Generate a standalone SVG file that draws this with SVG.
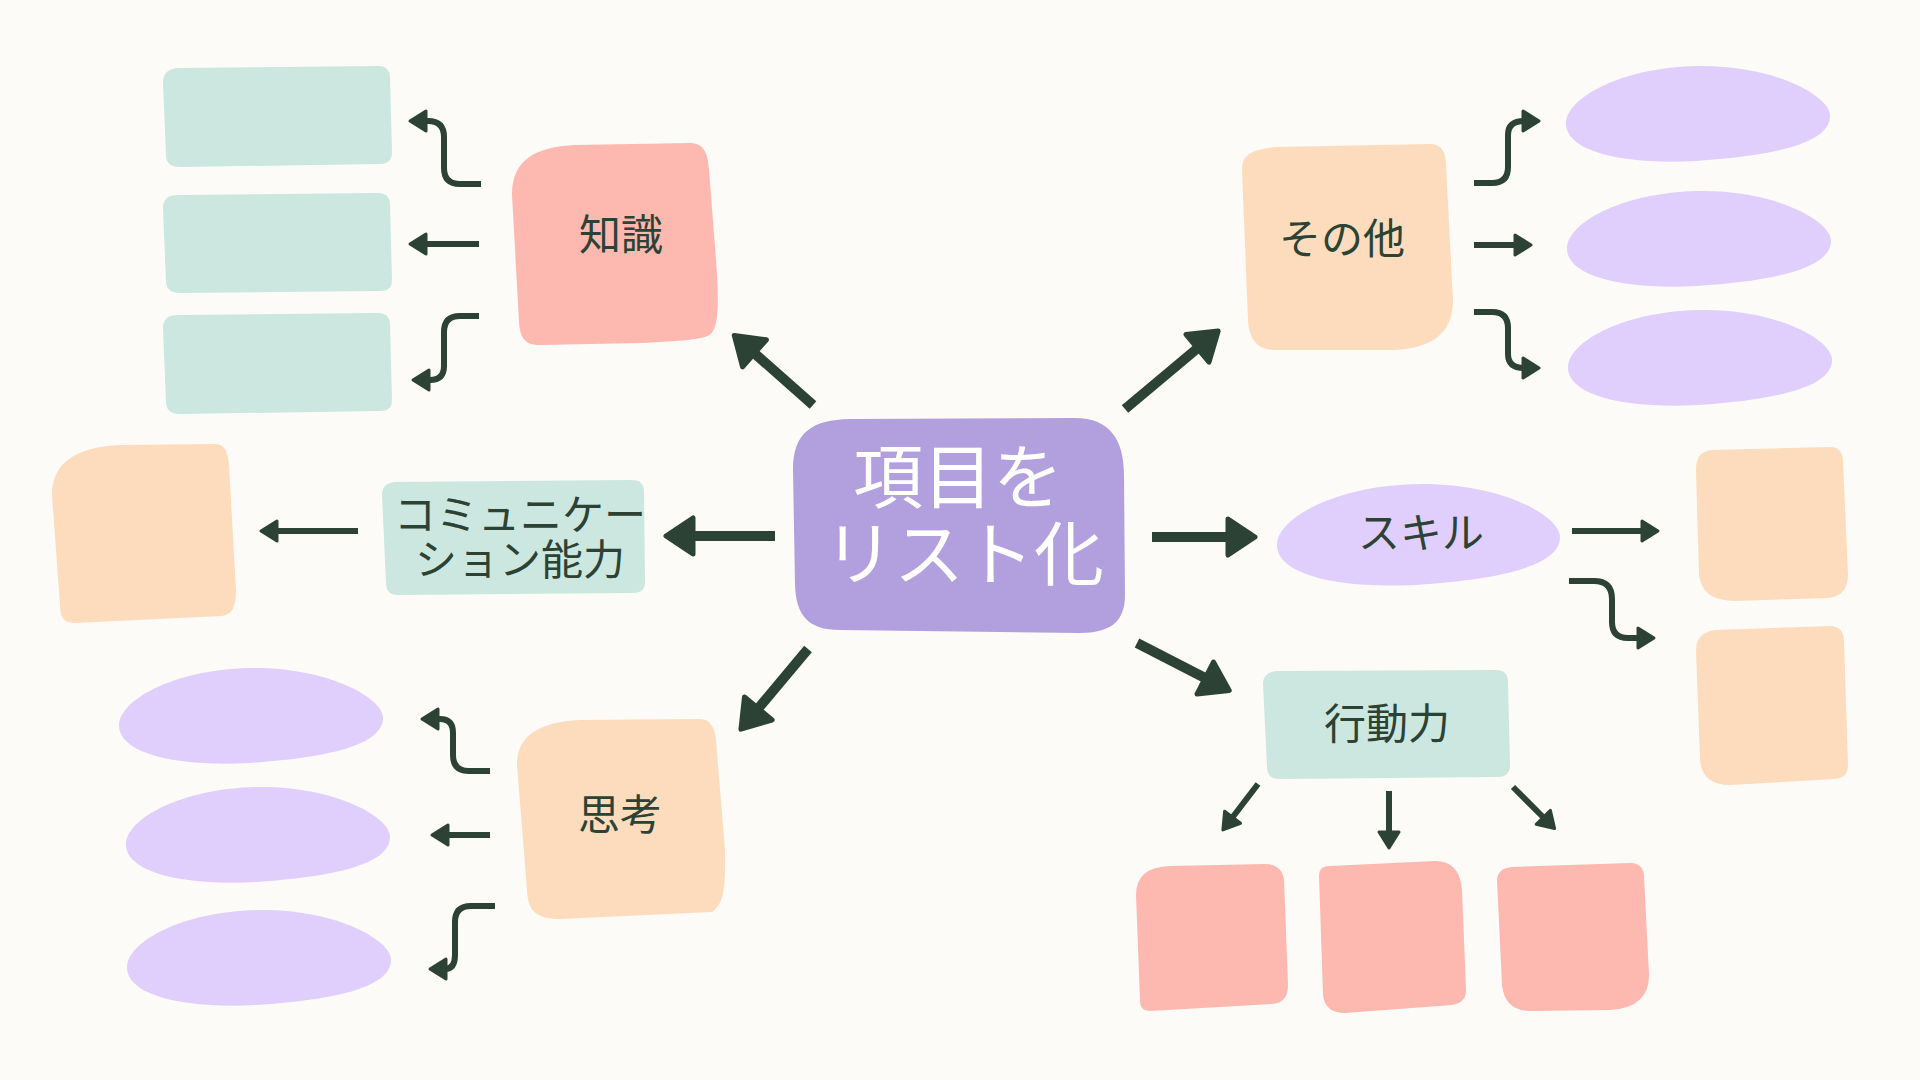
<svg xmlns="http://www.w3.org/2000/svg" xmlns:xlink="http://www.w3.org/1999/xlink" width="1920" height="1080" viewBox="0 0 1920 1080">
<style>
.pink{fill:#FDB8B0}
.peach{fill:#FDDCBD}
.teal{fill:#CBE7E0}
.lav{fill:#E0CFFC}
.purple{fill:#B2A0DE}
.lbl{font-family:"Noto Sans CJK JP","Noto Sans",sans-serif;font-size:42px;fill:#2C4235;text-anchor:middle}
.main{font-family:"Noto Sans CJK JP","Noto Sans",sans-serif;font-size:70px;fill:#FFFFFF;text-anchor:middle}
.big{fill:none;stroke:#2C4235;stroke-width:10}
.sm{fill:none;stroke:#2C4235;stroke-width:6}
</style>
<defs>
<marker id="hb" markerUnits="userSpaceOnUse" markerWidth="60" markerHeight="60" refX="2" refY="0" orient="auto" overflow="visible" viewBox="-30 -30 60 60">
<path d="M0,-18 L27,0 L0,18 Z" fill="#2C4235" stroke="#2C4235" stroke-width="5" stroke-linejoin="round"/>
</marker>
<marker id="hs" markerUnits="userSpaceOnUse" markerWidth="40" markerHeight="40" refX="1" refY="0" orient="auto" overflow="visible" viewBox="-20 -20 40 40">
<path d="M0,-10 L16,0 L0,10 Z" fill="#2C4235" stroke="#2C4235" stroke-width="3" stroke-linejoin="round"/>
</marker>
<path id="blob" d="M0,56 C2,30 60,0 136,0 C210,0 264,30 264,50 C264,78 205,90 130,95 C52,99 -2,84 0,56 Z"/>
</defs>
<rect x="0" y="0" width="1920" height="1080" fill="#FDFBF7"/>

<g id="connectors">
<path class="big" d="M813,405 L753,352" marker-end="url(#hb)"/>
<path class="big" d="M775,536 L691,536" marker-end="url(#hb)"/>
<path class="big" d="M808,649 L757,710" marker-end="url(#hb)"/>
<path class="big" d="M1125,409 L1199,347" marker-end="url(#hb)"/>
<path class="big" d="M1152,537 L1230,537" marker-end="url(#hb)"/>
<path class="big" d="M1137,643 L1207,679" marker-end="url(#hb)"/>

<path class="sm" d="M358,531 L276,531" marker-end="url(#hs)"/>
<path class="sm" d="M1572,531 L1643,531" marker-end="url(#hs)"/>
<path class="sm" d="M479,244 L425,244" marker-end="url(#hs)"/>
<path class="sm" d="M490,835 L447,835" marker-end="url(#hs)"/>
<path class="sm" d="M1474,245 L1516,245" marker-end="url(#hs)"/>
<path class="sm" d="M1258,784 L1232,818" marker-end="url(#hs)"/>
<path class="sm" d="M1389,791 L1389,833" marker-end="url(#hs)"/>
<path class="sm" d="M1513,787 L1544,818" marker-end="url(#hs)"/>

<path class="sm" d="M481,184 L460,184 Q444,184 444,168 L444,137 Q444,121 428,121 L425,121" marker-end="url(#hs)"/>
<path class="sm" d="M479,316 L460,316 Q444,316 444,332 L444,366 Q444,380 430,380 L428,380" marker-end="url(#hs)"/>
<path class="sm" d="M490,771 L469,771 Q453,771 453,755 L453,733 Q453,719 440,719 L437,719" marker-end="url(#hs)"/>
<path class="sm" d="M495,906 L471,906 Q455,906 455,922 L455,955 Q455,969 445,969" marker-end="url(#hs)"/>
<path class="sm" d="M1474,183 L1492,183 Q1508,183 1508,167 L1508,135 Q1508,121 1524,121" marker-end="url(#hs)"/>
<path class="sm" d="M1474,312 L1492,312 Q1508,312 1508,328 L1508,354 Q1508,368 1524,368" marker-end="url(#hs)"/>
<path class="sm" d="M1569,581 L1594,581 Q1612,581 1612,599 L1612,622 Q1612,638 1628,638 L1639,638" marker-end="url(#hs)"/>
</g>

<g id="center">
<path class="purple" d="M793,470 C793,432 812,420 850,419 L1075,418 C1110,418 1124,440 1124,475 L1125,595 C1125,622 1110,633 1080,633 L840,630 C808,630 796,615 795,585 Z"/>
<text class="main" x="958" y="503">項目を</text>
<text class="main" x="964" y="580">リスト化</text>
</g>

<g id="n-chishiki">
<path class="pink" d="M512,195 C512,160 535,147 575,145 L690,143 C703,143 708,152 709,170 L716,260 C719,300 719,325 711,334 C703,340 680,341 640,343 L540,345 C525,345 520,338 519,322 Z"/>
<text class="lbl" x="621" y="250">知識</text>
</g>
<g id="c-chishiki-1"><path class="teal" d="M178,68 L378,66 Q390,66 390,78 L392,152 Q392,164 380,164 L180,167 Q166,167 166,155 L163,82 Q163,69 178,68 Z"/></g>
<g id="c-chishiki-2"><path class="teal" d="M178,195 L378,193 Q390,193 390,205 L392,280 Q392,291 380,291 L180,293 Q166,293 166,281 L163,208 Q163,195 178,195 Z"/></g>
<g id="c-chishiki-3"><path class="teal" d="M178,315 L378,313 Q390,313 390,325 L392,400 Q392,411 380,411 L180,414 Q166,414 166,402 L163,328 Q163,315 178,315 Z"/></g>

<g id="n-comm">
<path class="teal" d="M395,482 L632,480 Q644,480 644,492 L645,582 Q645,593 633,593 L398,595 Q386,595 386,583 L382,495 Q382,483 395,482 Z"/>
<text class="lbl" x="520" y="530">コミュニケー</text>
<text class="lbl" x="520" y="575">ション能力</text>
</g>
<g id="c-comm-1"><path class="peach" d="M52,495 C52,460 80,447 120,445 L215,444 C225,444 228,452 229,465 L236,590 C236,608 232,614 222,616 L75,623 C63,623 60,616 60,605 Z"/></g>

<g id="n-shiko">
<path class="peach" d="M517,765 C517,735 540,722 580,720 L700,719 C710,719 715,728 716,740 L725,850 C726,895 722,905 712,912 L560,919 C535,919 528,910 527,890 Z"/>
<text class="lbl" x="620" y="830">思考</text>
</g>
<g id="c-shiko-1"><use href="#blob" class="lav" transform="translate(119,668)"/></g>
<g id="c-shiko-2"><use href="#blob" class="lav" transform="translate(126,787)"/></g>
<g id="c-shiko-3"><use href="#blob" class="lav" transform="translate(127,910)"/></g>

<g id="n-sonota">
<path class="peach" d="M1242,170 C1242,155 1250,150 1275,147 L1430,144 C1442,144 1446,152 1446,165 L1453,300 C1453,335 1430,348 1395,350 L1275,350 C1258,350 1249,340 1248,320 Z"/>
<text class="lbl" x="1342" y="254">その他</text>
</g>
<g id="c-sonota-1"><use href="#blob" class="lav" transform="translate(1566,66)"/></g>
<g id="c-sonota-2"><use href="#blob" class="lav" transform="translate(1567,191)"/></g>
<g id="c-sonota-3"><use href="#blob" class="lav" transform="translate(1568,310)"/></g>

<g id="n-skill">
<use href="#blob" class="lav" transform="translate(1277,484) scale(1.072,1.062)"/>
<text class="lbl" x="1421" y="548">スキル</text>
</g>
<g id="c-skill-1"><path class="peach" d="M1696,470 Q1696,451 1712,450 L1830,447 Q1842,447 1843,460 L1848,575 Q1848,596 1828,598 L1735,601 Q1702,601 1699,575 Z"/></g>
<g id="c-skill-2"><path class="peach" d="M1696,650 Q1696,633 1715,630 L1830,626 Q1843,626 1844,640 L1848,765 Q1848,778 1835,779 L1730,785 Q1702,785 1700,760 Z"/></g>

<g id="n-kodo">
<path class="teal" d="M1277,671 L1496,670 Q1508,670 1508,682 L1510,765 Q1510,777 1498,777 L1280,779 Q1267,779 1267,767 L1263,684 Q1263,672 1277,671 Z"/>
<text class="lbl" x="1387" y="739">行動力</text>
</g>
<g id="c-kodo-1"><path class="pink" d="M1136,895 Q1136,867 1170,866 L1265,864 Q1282,864 1284,880 L1288,985 Q1288,1003 1272,1004 L1150,1011 Q1140,1011 1140,1000 Z"/></g>
<g id="c-kodo-2"><path class="pink" d="M1319,875 Q1319,866 1330,866 L1435,861 Q1460,861 1462,890 L1466,990 Q1466,1003 1452,1005 L1345,1013 Q1325,1013 1323,995 Z"/></g>
<g id="c-kodo-3"><path class="pink" d="M1497,880 Q1498,868 1512,867 L1630,863 Q1643,863 1644,876 L1649,975 Q1649,1008 1610,1010 L1530,1011 Q1505,1011 1502,985 Z"/></g>
</svg>
